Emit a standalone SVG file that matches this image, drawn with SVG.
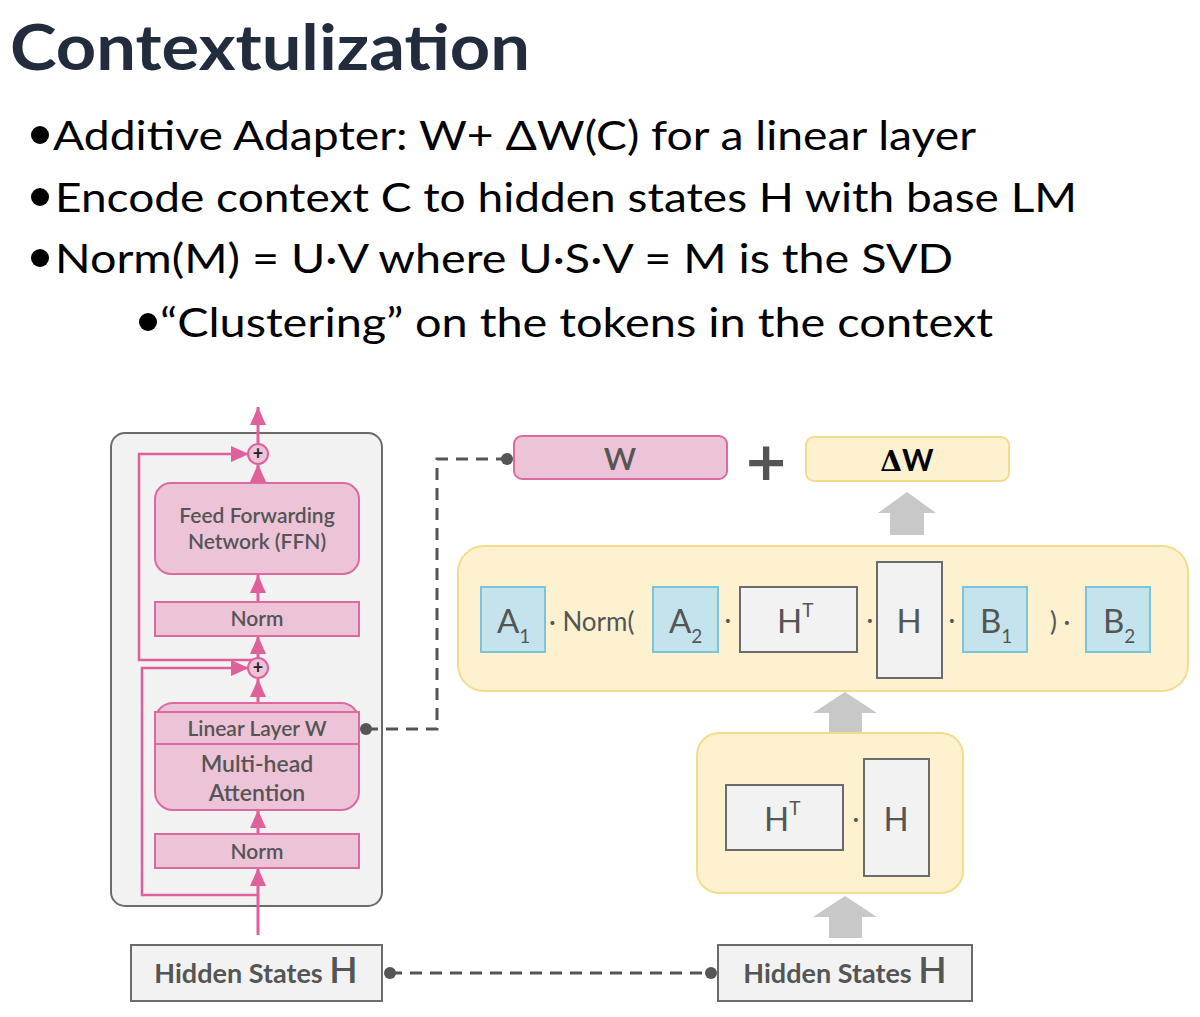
<svg xmlns="http://www.w3.org/2000/svg" width="1200" height="1017" viewBox="0 0 1200 1017">
<defs>
<marker id="ph" markerUnits="userSpaceOnUse" markerWidth="20" markerHeight="16" refX="18" refY="8" orient="auto"><path d="M0,0 L18,8 L0,16 Z" fill="#e0609c"/></marker>
<style>
.t{font-family:Lato,"Open Sans",sans-serif}
.pk{fill:#edc3d8;stroke:#dc6aa1;stroke-width:2}
.gr{fill:#f2f2f2;stroke:#6b6b6b;stroke-width:2}
.bl{fill:#c5e3ec;stroke:#7cc4dc;stroke-width:2}
.yl{fill:#fdf1cf;stroke:#f4dc8e;stroke-width:2}
.pl{fill:none;stroke:#e0609c;stroke-width:3}
.lp{fill:none;stroke:#e0609c;stroke-width:2.5}
.dash{fill:none;stroke:#555;stroke-width:3;stroke-dasharray:12,8}
.bt{font-family:Lato,sans-serif;fill:#555;text-anchor:middle;font-weight:600}
.hs{font-family:Lato,sans-serif;fill:#555;text-anchor:middle;font-weight:700;font-size:27px}
.mt{font-family:Lato,sans-serif;fill:#555;font-weight:400}
.blk{fill:#c8c8c8}
.h{font-family:Lato,sans-serif;font-size:41px;fill:#000}
</style>
</defs>
<rect width="1200" height="1017" fill="#fff"/>
<text class="t" x="10" y="70" font-size="64" font-weight="bold" fill="#232c3d" textLength="520" lengthAdjust="spacingAndGlyphs">Contextulization</text>
<circle cx="40" cy="135" r="9" fill="#000"/>
<text class="h" x="53" y="150" textLength="923" lengthAdjust="spacingAndGlyphs">Additive Adapter: W+ ΔW(C) for a linear layer</text>
<circle cx="40" cy="197" r="9" fill="#000"/>
<text class="h" x="55" y="212" textLength="1022" lengthAdjust="spacingAndGlyphs">Encode context C to hidden states H with base LM</text>
<circle cx="40" cy="258" r="9" fill="#000"/>
<text class="h" x="55" y="273" textLength="898" lengthAdjust="spacingAndGlyphs">Norm(M) = U·V where U·S·V = M is the SVD</text>
<circle cx="148" cy="322" r="9" fill="#000"/>
<text class="h" x="160" y="337" textLength="833" lengthAdjust="spacingAndGlyphs">“Clustering” on the tokens in the context</text>

<g id="block">
<rect x="111" y="433" width="271" height="473" rx="14" fill="#f2f2f2" stroke="#6b6b6b" stroke-width="2"/>
</g>

<g id="connectors">
<path class="pl" d="M258,935 V868" marker-end="url(#ph)"/>
<path class="pl" d="M258,834 V810" marker-end="url(#ph)"/>
<path class="pl" d="M258,703 V679" marker-end="url(#ph)"/>
<path class="pl" d="M258,658 V636" marker-end="url(#ph)"/>
<path class="pl" d="M258,602 V575" marker-end="url(#ph)"/>
<path class="pl" d="M258,483 V464" marker-end="url(#ph)"/>
<path class="pl" d="M258,444 V407" marker-end="url(#ph)"/>
<path class="lp" d="M258,660 H139 V454 H249" marker-end="url(#ph)"/>
<path class="lp" d="M258,895 H142 V668 H249" marker-end="url(#ph)"/>
<path class="dash" d="M366,729 H437 V459 H507"/>
<circle cx="366" cy="729" r="6" fill="#555"/>
<circle cx="507" cy="459" r="6" fill="#555"/>
<path class="dash" d="M390,973 H711"/>
<circle cx="390" cy="973" r="6" fill="#555"/>
<circle cx="711" cy="973" r="6" fill="#555"/>
<path class="blk" d="M907,492 L936,513 L924,513 L924,535 L890,535 L890,513 L878,513 Z"/>
<path class="blk" d="M845,692 L877,713 L862,713 L862,733 L829,733 L829,713 L813,713 Z"/>
<path class="blk" d="M845,896 L877,917 L862,917 L862,938 L829,938 L829,917 L813,917 Z"/>
</g>

<g id="add-top">
<circle cx="258" cy="454" r="10" fill="#edc3d8" stroke="#e0609c" stroke-width="2"/>
<text x="258" y="460" class="t" font-size="18" font-weight="bold" fill="#222" text-anchor="middle">+</text>
</g>
<g id="add-bottom">
<circle cx="258" cy="668" r="10" fill="#edc3d8" stroke="#e0609c" stroke-width="2"/>
<text x="258" y="674" class="t" font-size="18" font-weight="bold" fill="#222" text-anchor="middle">+</text>
</g>

<g id="ffn">
<rect class="pk" x="155" y="483" width="204" height="91" rx="16"/>
<text class="bt" x="257" y="523" font-size="21">Feed Forwarding</text>
<text class="bt" x="257" y="549" font-size="21">Network (FFN)</text>
</g>
<g id="norm-top">
<rect class="pk" x="155" y="602" width="204" height="34"/>
<text class="bt" x="257" y="626" font-size="21">Norm</text>
</g>
<g id="mha">
<rect class="pk" x="155" y="703" width="204" height="107" rx="18"/>
<rect class="pk" x="155" y="712" width="204" height="32"/>
<text class="bt" x="257" y="736" font-size="21">Linear Layer W</text>
<text class="bt" x="257" y="772" font-size="23">Multi-head</text>
<text class="bt" x="257" y="801" font-size="23">Attention</text>
</g>
<g id="norm-bottom">
<rect class="pk" x="155" y="834" width="204" height="34"/>
<text class="bt" x="257" y="859" font-size="21">Norm</text>
</g>
<g id="hidden-left">
<rect class="gr" x="131" y="945" width="251" height="56"/>
<text class="hs" x="256" y="983">Hidden States <tspan style="font-size:37px;font-weight:600">H</tspan></text>
</g>
<g id="hidden-right">
<rect class="gr" x="718" y="945" width="254" height="56"/>
<text class="hs" x="845" y="983">Hidden States <tspan style="font-size:37px;font-weight:600">H</tspan></text>
</g>

<g id="w">
<rect class="pk" x="514" y="436" width="213" height="43" rx="8"/>
<text class="bt" x="620" y="470" font-size="31">W</text>
</g>
<text x="766" y="480" font-family="'DejaVu Sans',sans-serif" font-size="54" font-weight="bold" fill="#555" text-anchor="middle">+</text>
<g id="dw">
<rect class="yl" x="806" y="437" width="203" height="44" rx="8"/>
<text x="907" y="471" font-size="30" font-weight="bold" fill="#000" text-anchor="middle"><tspan font-family="'DejaVu Serif',serif" font-size="28">Δ</tspan><tspan font-family="Lato,sans-serif">W</tspan></text>
</g>

<g id="formula">
<rect class="yl" x="458" y="546" width="730" height="145" rx="26"/>
<rect class="bl" x="481" y="587" width="64" height="65"/>
<text class="mt" x="497" y="633" font-size="33">A<tspan font-size="19" dy="10">1</tspan></text>
<text class="mt" x="549" y="631" font-size="26">· Norm(</text>
<rect class="bl" x="653" y="587" width="65" height="65"/>
<text class="mt" x="669" y="633" font-size="33">A<tspan font-size="19" dy="10">2</tspan></text>
<text class="mt" x="728" y="629" font-size="26" text-anchor="middle">·</text>
<rect class="gr" x="740" y="587" width="117" height="65"/>
<text class="mt" x="777" y="633" font-size="33">H<tspan font-size="19" dy="-16">T</tspan></text>
<text class="mt" x="870" y="629" font-size="26" text-anchor="middle">·</text>
<rect class="gr" x="877" y="562" width="65" height="116"/>
<text class="mt" x="909" y="633" font-size="33" text-anchor="middle">H</text>
<text class="mt" x="952" y="629" font-size="26" text-anchor="middle">·</text>
<rect class="bl" x="963" y="587" width="64" height="65"/>
<text class="mt" x="980" y="633" font-size="33">B<tspan font-size="19" dy="10">1</tspan></text>
<text class="mt" x="1050" y="631" font-size="26">) ·</text>
<rect class="bl" x="1086" y="587" width="64" height="65"/>
<text class="mt" x="1103" y="633" font-size="33">B<tspan font-size="19" dy="10">2</tspan></text>
</g>

<g id="gram">
<rect class="yl" x="697" y="733" width="266" height="160" rx="22"/>
<rect class="gr" x="726" y="785" width="117" height="65"/>
<text class="mt" x="764" y="831" font-size="33">H<tspan font-size="19" dy="-16">T</tspan></text>
<text class="mt" x="856" y="828" font-size="26" text-anchor="middle">·</text>
<rect class="gr" x="864" y="759" width="65" height="117"/>
<text class="mt" x="896" y="831" font-size="33" text-anchor="middle">H</text>
</g>
</svg>
